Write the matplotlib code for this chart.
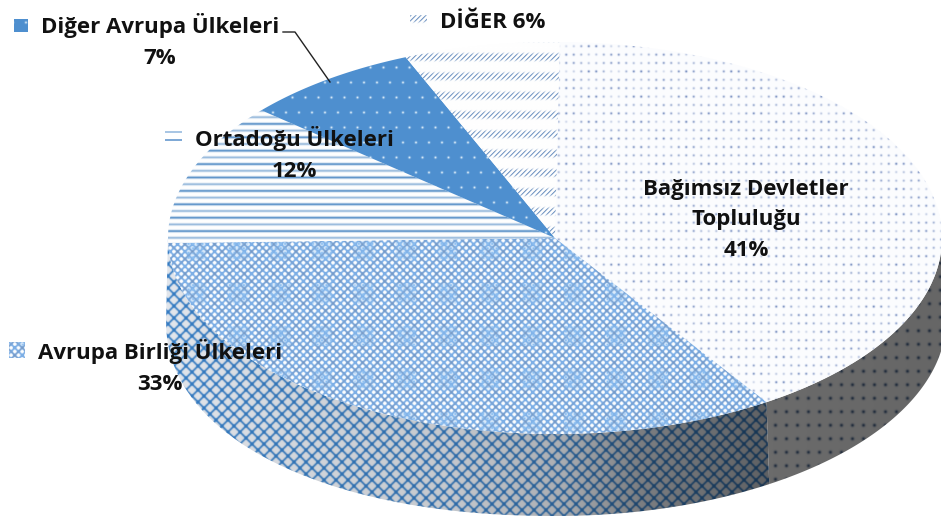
import numpy as np
import matplotlib
matplotlib.use('Agg')
import matplotlib.pyplot as plt
from matplotlib.patches import Polygon, Rectangle

plt.rcParams['font.family'] = ['Open Sans', 'DejaVu Sans']

# slices, clockwise from the top of the pie
names = ['Bağımsız Devletler\nTopluluğu', 'Avrupa Birliği Ülkeleri', 'Ortadoğu Ülkeleri',
         'Diğer Avrupa Ülkeleri', 'DİĞER']
percent_labels = ['41%', '33%', '12%', '7%', '6%']
# slice sizes, the printed labels are rounded
shares = [40.6, 33.8, 11.7, 7.4, 6.5]

W, H = 941, 517
CX, CY, RX, RY = 555, 238, 387, 196
BX, BY, BRX, BRY = 556, 320, 390, 196
START = 0.7

X, Y = np.meshgrid(np.arange(W) + 0.5, np.arange(H) + 0.5)


def blend(bg, fg, a):
    a = np.clip(a, 0, 1)[..., None]
    return np.asarray(bg, float) * (1 - a) + np.asarray(fg, float) * a


def spots(px, py, size, stagger=False):
    row = np.floor(Y / py)
    xx = X + (row % 2) * px / 2 if stagger else X
    dx = (xx % px) - px / 2
    dy = (Y % py) - py / 2
    return np.exp(-(dx ** 2 + dy ** 2) / size ** 2)


def lattice(p, k=6):
    return np.abs(np.cos(np.pi * (X + Y) / p)) ** k + np.abs(np.cos(np.pi * (X - Y) / p)) ** k


def tex_dots():
    fade = 0.55 + 0.3 * np.sin(2 * np.pi * Y / 26) * np.sin(2 * np.pi * X / 47 + 1)
    return blend([252, 253, 255], [105, 130, 185], spots(7.5, 8.4, 1.25) * fade)


def tex_weave():
    img = blend([255, 255, 255], [125, 175, 230], 0.95 * lattice(7.4, 4))
    bx = np.cos(2 * np.pi * (X - 322) / 42)
    by = np.cos(2 * np.pi * (Y - 293) / 43)
    block = np.clip((bx + 0.1) * 2.5, 0, 1) * np.clip((by + 0.1) * 2.5, 0, 1)
    fine = 0.3 + 0.7 * np.cos(np.pi * X / 4.6) ** 2 * np.cos(np.pi * Y / 4.6) ** 2
    img = blend(img, [140, 190, 240], block * fine)
    return blend(img, [120, 135, 165], 0.3 * lattice(14.8, 30))


def tex_lines():
    y = Y % 13.4
    a = 0.95 * np.exp(-((y - 3.3) / 1.25) ** 2) + 0.6 * np.exp(-((y - 10) / 1.25) ** 2)
    return blend([255, 255, 255], [90, 145, 200], a)


def tex_slash():
    band = np.exp(-(((Y - 8.8) % 19.3 - 9.6) / 4.0) ** 4)
    ticks = (0.5 + 0.5 * np.sin(2 * np.pi * (X + Y) / 5.0)) ** 3
    return blend([255, 255, 255], [115, 150, 195], band * ticks)


def tex_solid():
    return blend([78, 143, 207], [225, 240, 250], 0.9 * spots(13, 15, 1.2, stagger=True))


def shade():
    f = np.interp(X, [168, 300, 450, 560, 640, 770, 941], [1, 0.93, 0.87, 0.76, 0.55, 0.42, 0.4])
    return f[..., None]


def tex_side_weave():
    img = blend([226, 230, 236], [55, 125, 195], 0.85 * lattice(12, 10))
    return img * shade()


def tex_side_dots():
    img = blend([255, 255, 255], [35, 70, 120], 0.75 * spots(11, 13.5, 1.7))
    return img * shade()


textures = [tex_dots, tex_weave, tex_lines, tex_solid, tex_slash]


def top_point(t):
    t = np.radians(t)
    return CX + RX * np.sin(t), CY - RY * np.cos(t)


def bottom_point(t):
    # the left half of the lower rim bulges a little more than the right
    s = np.sin(np.radians(t))
    n = np.where(s < 0, 2.15, 2.0)
    return BX + BRX * s, BY + BRY * (1 - np.abs(s) ** n) ** (1 / n)


def paint(ax, img, verts, z):
    patch = Polygon(verts, closed=True, transform=ax.transData, fc='none', ec='none')
    ax.add_patch(patch)
    im = ax.imshow(np.clip(img, 0, 255).astype(np.uint8), extent=(0, W, H, 0),
                   interpolation='nearest', zorder=z)
    im.set_clip_path(patch)


def side_verts(a, b):
    t = np.linspace(a, b, 120)
    top = np.column_stack(top_point(t))
    bottom = np.column_stack(bottom_point(t[::-1]))
    return np.vstack([top, bottom])


fig = plt.figure(figsize=(W / 100, H / 100), dpi=100)
ax = fig.add_axes([0, 0, 1, 1])

edges = START + np.cumsum([0] + shares) * 360 / sum(shares)

# rim: only the two front slices show
paint(ax, tex_side_dots(), side_verts(90, edges[1]), 1)
paint(ax, tex_side_weave(), side_verts(edges[1], 270), 1)

# top face
for i, tex in enumerate(textures):
    t = np.linspace(edges[i], edges[i + 1], 160)
    arc = np.column_stack(top_point(t))
    paint(ax, tex(), np.vstack([[CX, CY], arc]), 2)

# legend keys next to the labels
paint(ax, tex_solid(), [(14, 19), (28, 19), (28, 32), (14, 32)], 3)
paint(ax, tex_slash(), [(410, 15), (427, 15), (427, 27), (410, 27)], 3)
paint(ax, tex_weave(), [(9, 342), (25, 342), (25, 358), (9, 358)], 3)
ax.add_patch(Rectangle((165, 131), 17, 1.5, fc='#a9c6e4', ec='none', zorder=3))
ax.add_patch(Rectangle((165, 139), 17, 2, fc='#7fa9d6', ec='none', zorder=3))

ax.plot([283, 295, 330], [32, 32, 82], color='#222222', lw=1, zorder=4)

txt = dict(fontsize=16, fontweight='bold', color='#111111', ha='center', va='center',
           linespacing=1.62, zorder=5)
ax.text(746, 220, f'{names[0]}\n{percent_labels[0]}', **txt)
ax.text(160, 367, f'{names[1]}\n{percent_labels[1]}', **txt)
ax.text(294, 154, f'{names[2]}\n{percent_labels[2]}', **txt)
ax.text(160, 41, f'{names[3]}\n{percent_labels[3]}', **txt)
ax.text(493, 23, f'{names[4]} {percent_labels[4]}', **txt)

ax.set_xlim(0, W)
ax.set_ylim(H, 0)
ax.axis('off')
fig.savefig('out.png', dpi=100, facecolor='white')
